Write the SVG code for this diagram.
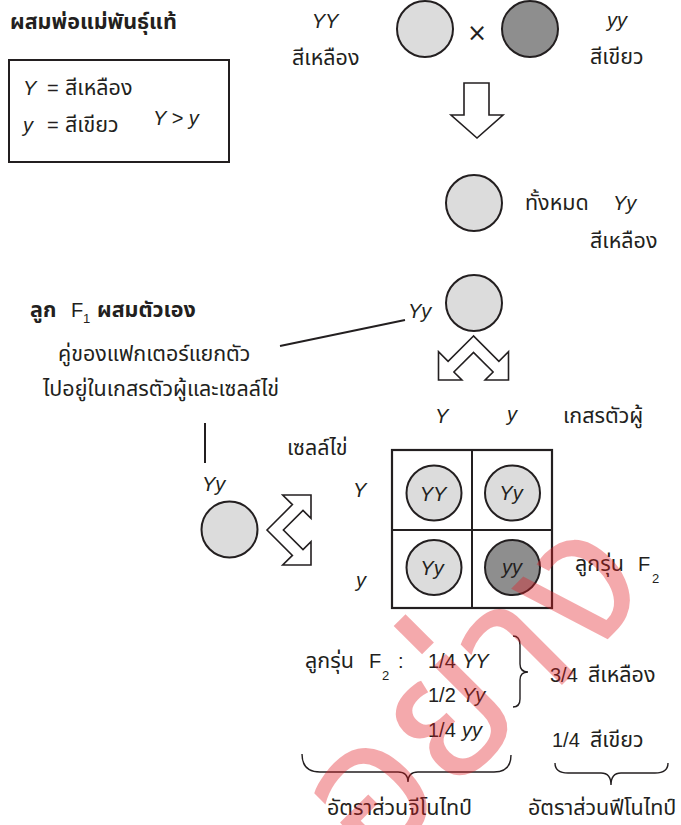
<svg xmlns="http://www.w3.org/2000/svg" width="681" height="825" viewBox="0 0 681 825">
<style>
text{font-family:"Liberation Sans","Noto Sans Thai","Noto Sans",sans-serif;font-size:20px;fill:#231f20}
.th{font-size:21.5px}
.i{font-style:italic}
.b{font-weight:bold}
.s{font-size:13px}
.m{text-anchor:middle}
.lt{fill:#dcdcdc;stroke:#231f20;stroke-width:2}
.dk{fill:#8e8e8e;stroke:#231f20;stroke-width:2}
.ln{fill:none;stroke:#231f20;stroke-width:2}
.ar{fill:#fff;stroke:#231f20;stroke-width:1.6;stroke-linejoin:miter}
.br{fill:none;stroke:#231f20;stroke-width:1.4}
.wm{font-family:"Noto Sans Thai",sans-serif;font-size:190px;fill:#e31e26;fill-opacity:0.38}
</style>
<defs>
<polygon id="split" points="0,0 -25.4,25.4 -35,15.7 -35,44 -11.6,44 -19.6,36 0,16.4 19.6,36 11.6,44 35,44 35,15.7 25.4,25.4"/>
</defs>
<rect width="681" height="825" fill="#fff"/>
<g id="title"><text x="10" y="29" class="b th">ผสมพ่อแม่พันธุ์แท้</text></g>
<g id="legend">
<rect x="9" y="60" width="220" height="102" fill="none" stroke="#231f20" stroke-width="2"/>
<text x="23" y="95" class="i">Y</text><text x="47" y="95">=</text><text x="65" y="95" class="th">สีเหลือง</text>
<text x="23" y="132" class="i">y</text><text x="47" y="132">=</text><text x="65" y="132" class="th">สีเขียว</text>
<text x="153" y="125" class="i">Y &gt; y</text>
</g>
<g id="parent-YY">
<text x="325" y="28" class="i m">YY</text>
<text x="292" y="65" class="th">สีเหลือง</text>
<circle cx="425" cy="29" r="28" class="lt"/>
</g>
<g id="cross"><text x="477" y="41" class="m" style="font-family:'DejaVu Sans',sans-serif;font-size:24px">×</text></g>
<g id="parent-yy">
<circle cx="530" cy="29" r="28" class="dk"/>
<text x="617" y="27" class="i m">yy</text>
<text x="590" y="64" class="th">สีเขียว</text>
</g>
<g id="F1">
<circle cx="474" cy="203" r="28" class="lt"/>
<text x="525" y="210" class="th">ทั้งหมด</text><text x="613" y="210" class="i">Yy</text>
<text x="590" y="248" class="th">สีเหลือง</text>
</g>
<g id="F1-self">
<circle cx="474" cy="303" r="28" class="lt"/>
<text x="408" y="318" class="i">Yy</text>
</g>
<g id="note">
<text x="30" y="317" class="b th">ลูก</text><text x="71" y="317">F</text><text x="83" y="323" class="s">1</text><text x="97" y="317" class="b th">ผสมตัวเอง</text>
<text x="58" y="361" class="th">คู่ของแฟกเตอร์แยกตัว</text>
<text x="43" y="396" class="th">ไปอยู่ในเกสรตัวผู้และเซลล์ไข่</text>
</g>
<g id="F1-egg">
<text x="202" y="491" class="i">Yy</text>
<circle cx="229.5" cy="529.5" r="28" class="lt"/>
</g>
<g id="labels">
<text x="563" y="423" class="th">เกสรตัวผู้</text>
<text x="435" y="423" class="i">Y</text><text x="507" y="421" class="i">y</text>
<text x="287" y="455" class="th">เซลล์ไข่</text>
<text x="353" y="497" class="i">Y</text><text x="356" y="587" class="i">y</text>
<text x="575" y="571" class="th">ลูกรุ่น</text><text x="638" y="571">F</text><text x="652" y="583" class="s">2</text>
</g>
<g id="punnett">
<rect x="392" y="450" width="160" height="158" fill="none" stroke="#231f20" stroke-width="2.2"/>
<line x1="472" y1="450" x2="472" y2="608" class="ln"/>
<line x1="392" y1="530" x2="552" y2="530" class="ln"/>
<circle cx="434" cy="493" r="27.5" class="lt"/><text x="433" y="501" class="i m">YY</text>
<circle cx="512.5" cy="493" r="27.5" class="lt"/><text x="511" y="500" class="i m">Yy</text>
<circle cx="434" cy="567.5" r="27.5" class="lt"/><text x="432" y="575" class="i m">Yy</text>
<circle cx="512.5" cy="567.5" r="27.5" class="dk"/><text x="512" y="574" class="i m">yy</text>
</g>
<g id="ratios">
<text x="305" y="668" class="th">ลูกรุ่น</text><text x="369" y="668">F</text><text x="382" y="680" class="s">2</text><text x="398" y="668">:</text>
<text x="428" y="668">1/4</text><text x="462" y="668" class="i">YY</text>
<text x="428" y="702">1/2</text><text x="462" y="702" class="i">Yy</text>
<text x="428" y="737">1/4</text><text x="462" y="737" class="i">yy</text>
<text x="550" y="682">3/4</text><text x="588" y="682" class="th">สีเหลือง</text>
<text x="552" y="747">1/4</text><text x="590" y="747" class="th">สีเขียว</text>
<text x="327" y="815" class="th">อัตราส่วนจีโนไทป์</text>
<text x="528" y="815" class="th">อัตราส่วนฟีโนไทป์</text>
</g>
<g id="connectors">
<polygon class="ar" points="464,83 489,83 489,115 503,115 477,138 451,115 464,115"/>
<use href="#split" class="ar" transform="translate(473.5,336)"/>
<use href="#split" class="ar" transform="translate(267,530) matrix(0,1,1,0,0,0)"/>
<line x1="280" y1="346" x2="405" y2="320" class="ln"/>
<line x1="205" y1="423" x2="205" y2="463" class="ln"/>
<path class="br" d="M513,636 Q520,636 520,645 L520,664 Q520,672 528,672 Q520,672 520,680 L520,699 Q520,707 513,707"/>
<path class="br" d="M302,754 Q302,772 320,772 L398,772 Q408,772 408,782 Q408,772 418,772 L494,772 Q511,772 511,755"/>
<path class="br" d="M555,763 Q555,773 568,773 L601,773 Q611,773 611,785 Q611,773 621,773 L655,773 Q668,773 668,763"/>
</g>
<g id="watermark"><text class="wm" x="0" y="0" text-anchor="end" transform="translate(657,590) rotate(-45)">ตัวอย่าง</text></g>
</svg>
